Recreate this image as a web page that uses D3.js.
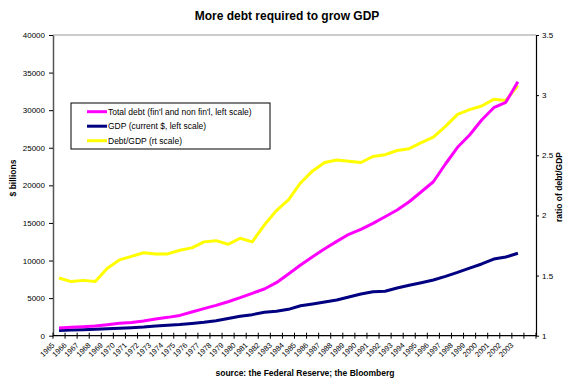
<!DOCTYPE html>
<html>
<head>
<meta charset="utf-8">
<script src="https://cdn.jsdelivr.net/npm/d3@7"></script>
<style>
  body { margin: 0; background: #fff; }
  text { font-family: Arial, "Liberation Sans", sans-serif; }
</style>
</head>
<body>
<div id="chart"></div>
<script>
// categories (one extra empty slot at the end, like the original axis)
var years = ["1965","1966","1967","1968","1969","1970","1971","1972","1973","1974",
  "1975","1976","1977","1978","1979","1980","1981","1982","1983","1984",
  "1985","1986","1987","1988","1989","1990","1991","1992","1993","1994",
  "1995","1996","1997","1998","1999","2000","2001","2002","2003"];

// $ billions, left scale
var totalDebt = [1020, 1110, 1200, 1290, 1460, 1650, 1750, 1950, 2220, 2440,
  2700, 3150, 3600, 4040, 4520, 5060, 5640, 6210, 7050, 8200,
  9400, 10510, 11570, 12550, 13490, 14150, 14950, 15830, 16720, 17820,
  19150, 20480, 22840, 25060, 26700, 28690, 30330, 31040, 33790];

var gdp = [700, 750, 800, 860, 930, 980, 1060, 1150, 1280, 1400,
  1480, 1620, 1780, 2000, 2300, 2580, 2800, 3110, 3240, 3510,
  3990, 4220, 4480, 4750, 5150, 5550, 5850, 5920, 6340, 6700,
  7050, 7410, 7900, 8430, 9000, 9540, 10200, 10470, 10960];

// ratio, right scale
var debtToGdp = [1.48, 1.45, 1.46, 1.45, 1.56, 1.63, 1.66, 1.69, 1.68, 1.68,
  1.71, 1.73, 1.78, 1.79, 1.76, 1.81, 1.78, 1.92, 2.04, 2.13,
  2.27, 2.37, 2.44, 2.46, 2.45, 2.44, 2.49, 2.505, 2.54, 2.555,
  2.605, 2.65, 2.74, 2.84, 2.88, 2.91, 2.965, 2.955, 3.08];

var leftTicks = [0, 5000, 10000, 15000, 20000, 25000, 30000, 35000, 40000];
var rightTicks = [1, 1.5, 2, 2.5, 3, 3.5];

var seriesNames = ["Total debt (fin'l and non fin'l, left scale)",
  "GDP (current $, left scale)", "Debt/GDP (rt scale)"];
var seriesColors = ["#ff00ff", "#000080", "#ffff00"];

var svgWidth = 564, svgHeight = 380;
var margin = { top: 35, right: 28, bottom: 44.3, left: 53 };
var width = svgWidth - margin.left - margin.right;
var height = svgHeight - margin.top - margin.bottom;

var svg = d3.select("#chart").append("svg")
  .attr("width", svgWidth)
  .attr("height", svgHeight);

var chartGroup = svg.append("g")
  .attr("transform", `translate(${margin.left}, ${margin.top})`);

var slots = years.concat([""]);
var xScale = d3.scaleBand().domain(slots).range([0, width]);
var bw = xScale.bandwidth();
var cx = d => xScale(d) + bw / 2;

var yLeft = d3.scaleLinear().domain([0, 40000]).range([height, 0]);
var yRight = d3.scaleLinear().domain([1, 3.5]).range([height, 0]);

// top gridline
chartGroup.append("line")
  .attr("x1", 0).attr("x2", width)
  .attr("y1", yLeft(40000)).attr("y2", yLeft(40000))
  .attr("stroke", "#999").attr("stroke-width", 1);

// left axis
var leftAxis = chartGroup.append("g")
  .call(d3.axisLeft(yLeft).tickValues(leftTicks).tickSize(4).tickPadding(4).tickSizeOuter(0)
    .tickFormat(d3.format("d")));
leftAxis.select(".domain").attr("stroke", "#555").attr("stroke-width", 1.5);
leftAxis.selectAll("line").attr("stroke", "#000");
leftAxis.selectAll("text").style("font-size", "8px").attr("fill", "#000");

// right axis
var rightAxis = chartGroup.append("g")
  .attr("transform", `translate(${width}, 0)`)
  .call(d3.axisRight(yRight).tickValues(rightTicks).tickSize(3).tickPadding(3).tickSizeOuter(0)
    .tickFormat(d => String(d)));
rightAxis.select(".domain").attr("stroke", "#000").attr("stroke-width", 1.2);
rightAxis.selectAll("text").style("font-size", "8px").attr("fill", "#000");

// x axis
var xAxis = chartGroup.append("g").attr("transform", `translate(0, ${height})`);
xAxis.append("line").attr("x1", 0).attr("x2", width)
  .attr("stroke", "#000").attr("stroke-width", 1.2);
xAxis.selectAll(".tick")
  .data(slots.map(d => xScale(d)).concat([width]))
  .enter().append("line")
  .attr("x1", d => d).attr("x2", d => d)
  .attr("y1", -3).attr("y2", 3)
  .attr("stroke", "#000");
xAxis.selectAll(".lbl")
  .data(years)
  .enter().append("text")
  .attr("transform", d => `translate(${cx(d) - 4}, 10) rotate(-45)`)
  .attr("text-anchor", "end")
  .style("font-size", "7.5px")
  .text(d => d);

// lines
function drawLine(values, yScale, color) {
  var line = d3.line()
    .x((d, i) => cx(years[i]))
    .y(d => yScale(d));
  chartGroup.append("path")
    .datum(values)
    .attr("d", line)
    .attr("fill", "none")
    .attr("stroke", color)
    .attr("stroke-width", 3)
    .attr("stroke-linejoin", "round");
}
drawLine(debtToGdp, yRight, seriesColors[2]);
drawLine(gdp, yLeft, seriesColors[1]);
drawLine(totalDebt, yLeft, seriesColors[0]);

// legend
var legend = svg.append("g").attr("transform", "translate(71, 103)");
legend.append("rect")
  .attr("width", 199).attr("height", 46)
  .attr("fill", "#fff").attr("stroke", "#000").attr("stroke-width", 1);
seriesNames.forEach(function(name, i) {
  var ly = 8.7 + i * 14.5;
  legend.append("line")
    .attr("x1", 16).attr("x2", 36)
    .attr("y1", ly).attr("y2", ly)
    .attr("stroke", seriesColors[i]).attr("stroke-width", 3);
  legend.append("text")
    .attr("x", 37).attr("y", ly).attr("dy", "0.35em")
    .style("font-size", "8.5px")
    .text(name);
});

// titles
svg.append("text")
  .attr("x", 287).attr("y", 20)
  .attr("text-anchor", "middle")
  .style("font-size", "12px").style("font-weight", "bold")
  .text("More debt required to grow GDP");

svg.append("text")
  .attr("transform", "translate(16, 178) rotate(-90)")
  .attr("text-anchor", "middle")
  .style("font-size", "8.5px").style("font-weight", "bold")
  .text("$ billions");

svg.append("text")
  .attr("transform", "translate(562, 187) rotate(-90)")
  .attr("text-anchor", "middle")
  .style("font-size", "8.5px").style("font-weight", "bold")
  .text("ratio of debt/GDP");

svg.append("text")
  .attr("x", 305).attr("y", 376)
  .attr("text-anchor", "middle")
  .style("font-size", "8.5px").style("font-weight", "bold")
  .text("source: the Federal Reserve; the Bloomberg");
</script>
</body>
</html>
